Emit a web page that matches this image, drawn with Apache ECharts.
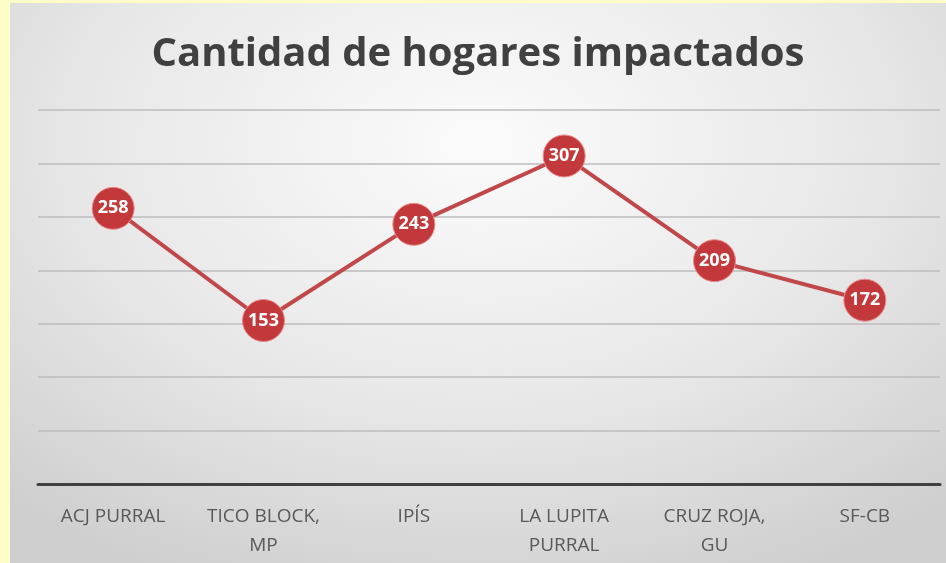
<!DOCTYPE html>
<html>
<head>
<meta charset="utf-8">
<script src="https://cdn.jsdelivr.net/npm/echarts@6/dist/echarts.min.js"></script>
<style>
  html, body { margin: 0; padding: 0; width: 946px; height: 563px; overflow: hidden; background: #fdfdc8; }
  #main {
    position: absolute; left: 10px; top: 3px; width: 936px; height: 560px;
    background: radial-gradient(ellipse 75% 85% at 50% 25%, #fbfbfb 0%, #e8e8e8 55%, #cfcfcf 100%);
  }
</style>
</head>
<body>
<div id="main"></div>
<script>
  // datos
  const categorias = ['ACJ PURRAL', 'TICO BLOCK,\nMP', 'IPÍS', 'LA LUPITA\nPURRAL', 'CRUZ ROJA,\nGU', 'SF-CB'];
  const hogares = [258, 153, 243, 307, 209, 172];

  const chart = echarts.init(document.getElementById('main'));
  const option = {
    backgroundColor: 'transparent',
    title: {
      text: 'Cantidad de hogares impactados',
      left: 'center',
      top: 27,
      textStyle: {
        fontFamily: 'Open Sans',
        fontSize: 40,
        fontWeight: 'bold',
        color: '#404040'
      }
    },
    grid: { left: 28, right: 6, top: 107, bottom: 79 },
    xAxis: {
      type: 'category',
      data: categorias,
      boundaryGap: true,
      axisLine: { lineStyle: { color: '#404040', width: 3 } },
      axisTick: { show: false },
      axisLabel: {
        color: '#595959',
        fontFamily: 'Open Sans',
        fontSize: 19,
        lineHeight: 29,
        margin: 18,
        interval: 0
      }
    },
    yAxis: {
      type: 'value',
      min: 0,
      max: 350,
      interval: 50,
      axisLabel: { show: false },
      axisLine: { show: false },
      axisTick: { show: false },
      splitLine: { lineStyle: { color: '#bdbdbd', width: 1.5 } }
    },
    series: [{
      type: 'line',
      data: hogares,
      symbol: 'circle',
      symbolSize: 42,
      lineStyle: { color: '#c0484a', width: 4 },
      itemStyle: { color: '#c3393b', borderColor: '#e88a8a', borderWidth: 1 },
      label: {
        show: true,
        position: 'inside',
        color: '#ffffff',
        fontFamily: 'Open Sans',
        fontWeight: 'bold',
        fontSize: 18
      },
      emphasis: { disabled: true },
      animation: false
    }]
  };
  chart.setOption(option);
</script>
</body>
</html>
